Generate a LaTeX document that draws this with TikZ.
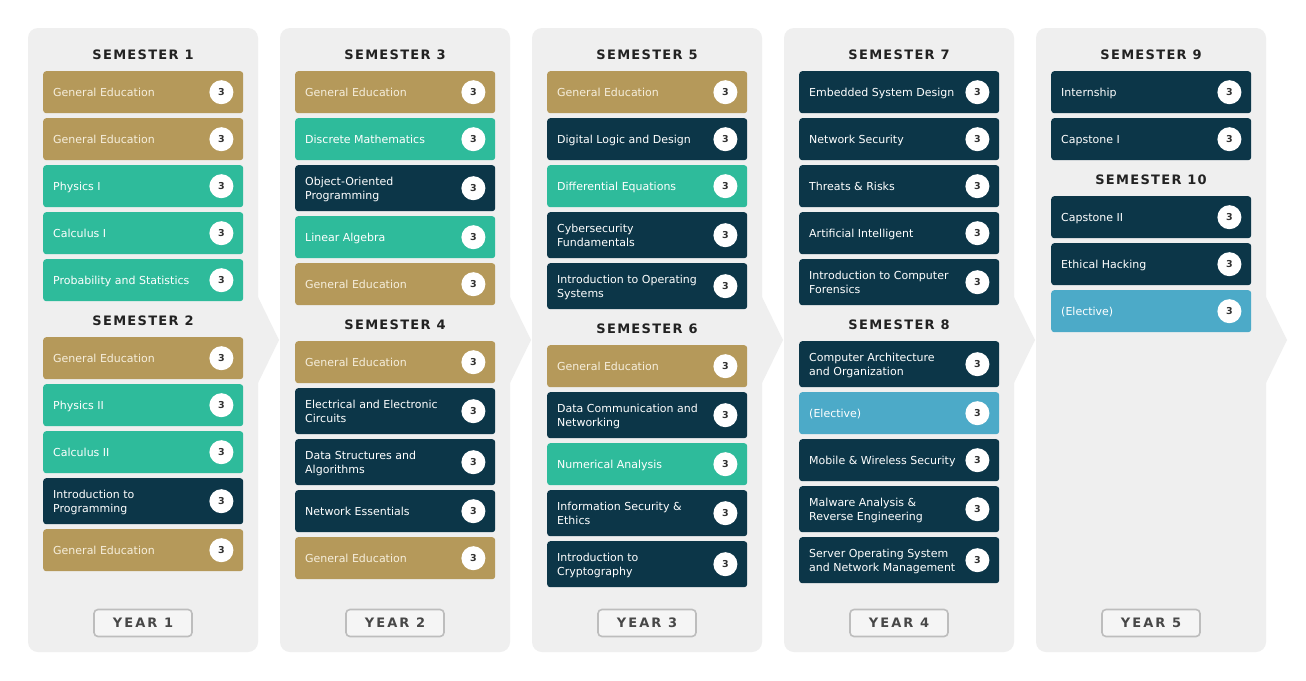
\documentclass[tikz,border=0pt]{standalone}
\usepackage{fontspec}
\setmainfont{DejaVu Sans}
\newfontfamily\headfont[LetterSpace=10]{DejaVu Sans}
\newfontfamily\yearfont[LetterSpace=16]{DejaVu Sans}
\definecolor{tan}{HTML}{B5995A}
\definecolor{teal}{HTML}{2EBB9B}
\definecolor{navy}{HTML}{0C3648}
\definecolor{elect}{HTML}{4CAAC8}
\definecolor{panel}{HTML}{EFEFEF}
\definecolor{tantext}{HTML}{F6EEDC}
\definecolor{yearborder}{HTML}{BDBDBD}
\definecolor{yeartext}{HTML}{474747}
\definecolor{headtext}{HTML}{222222}
\definecolor{badgetext}{HTML}{333333}
\tikzset{
  panelbg/.style={fill=panel},
  crsbox/.style={rectangle, rounded corners=3pt, minimum width=200pt, inner sep=0pt, draw=none},
  tanbox/.style={fill=tan}, tealbox/.style={fill=teal}, navybox/.style={fill=navy}, electbox/.style={fill=elect},
  crstext/.style={inner sep=0pt, align=left, font=\fontsize{11}{14}\selectfont,
    execute at begin node={\vphantom{lg}}, execute at end node={\vphantom{lg}}},
  tantext/.style={text=tantext}, tealtext/.style={text=white}, navytext/.style={text=white}, electtext/.style={text=white},
  badge/.style={circle, fill=white, minimum size=24pt, inner sep=0pt, text=badgetext, font=\fontsize{9.5}{10}\selectfont\bfseries},
  semhead/.style={inner sep=0pt, text=headtext, font=\fontsize{13}{14}\selectfont\headfont\bfseries},
  yearbox/.style={rectangle, rounded corners=4pt, draw=yearborder, line width=1.6pt, fill=panel!60!white, minimum width=98pt, minimum height=27pt, inner sep=0pt, text=yeartext, font=\fontsize{13}{14}\selectfont\yearfont\bfseries},
}
% #1 name, #2 x-left, #3 y-top, #4 height, #5 colour key, #6 text
\newcommand\crs[6]{%
  \node[crsbox,#5box,minimum height=#4pt,anchor=north west] (#1) at (#2,#3) {};
  \node[crstext,#5text,anchor=west] (#1t) at ([xshift=10pt,yshift=-0.8pt]#1.west) {#6};
  \node[badge] (#1b) at ([xshift=-22pt]#1.east) {3};
}
\begin{document}
\begin{tikzpicture}[x=1pt,y=-1pt]
\useasboundingbox (0,0) rectangle (1306,680);
\fill[white] (0,0) rectangle (1306,680);
% panels with chevrons
\foreach \px in {28,280,532,784,1036}{
  \fill[panelbg, rounded corners=10pt] (\px,28) rectangle ({\px+230},652);
  \fill[panelbg] ({\px+229},295) -- ({\px+251},340) -- ({\px+229},385) -- cycle;
}
% ---------------- Year 1
\node[semhead] (s1) at (143,55) {SEMESTER 1};
\crs{c1a}{43}{71}{42}{tan}{General Education}
\crs{c1b}{43}{118}{42}{tan}{General Education}
\crs{c1c}{43}{165}{42}{teal}{Physics I}
\crs{c1d}{43}{212}{42}{teal}{Calculus I}
\crs{c1e}{43}{259}{42}{teal}{Probability and Statistics}
\node[semhead] (s2) at (143,321) {SEMESTER 2};
\crs{c2a}{43}{337}{42}{tan}{General Education}
\crs{c2b}{43}{384}{42}{teal}{Physics II}
\crs{c2c}{43}{431}{42}{teal}{Calculus II}
\crs{c2d}{43}{478}{46}{navy}{Introduction to\\Programming}
\crs{c2e}{43}{529}{42}{tan}{General Education}
\node[yearbox] (y1) at (143,623) {YEAR 1};
% ---------------- Year 2
\node[semhead] (s3) at (395,55) {SEMESTER 3};
\crs{c3a}{295}{71}{42}{tan}{General Education}
\crs{c3b}{295}{118}{42}{teal}{Discrete Mathematics}
\crs{c3c}{295}{165}{46}{navy}{Object-Oriented\\Programming}
\crs{c3d}{295}{216}{42}{teal}{Linear Algebra}
\crs{c3e}{295}{263}{42}{tan}{General Education}
\node[semhead] (s4) at (395,325) {SEMESTER 4};
\crs{c4a}{295}{341}{42}{tan}{General Education}
\crs{c4b}{295}{388}{46}{navy}{Electrical and Electronic\\Circuits}
\crs{c4c}{295}{439}{46}{navy}{Data Structures and\\Algorithms}
\crs{c4d}{295}{490}{42}{navy}{Network Essentials}
\crs{c4e}{295}{537}{42}{tan}{General Education}
\node[yearbox] (y2) at (395,623) {YEAR 2};
% ---------------- Year 3
\node[semhead] (s5) at (647,55) {SEMESTER 5};
\crs{c5a}{547}{71}{42}{tan}{General Education}
\crs{c5b}{547}{118}{42}{navy}{Digital Logic and Design}
\crs{c5c}{547}{165}{42}{teal}{Differential Equations}
\crs{c5d}{547}{212}{46}{navy}{Cybersecurity\\Fundamentals}
\crs{c5e}{547}{263}{46}{navy}{Introduction to Operating\\Systems}
\node[semhead] (s6) at (647,329) {SEMESTER 6};
\crs{c6a}{547}{345}{42}{tan}{General Education}
\crs{c6b}{547}{392}{46}{navy}{Data Communication and\\Networking}
\crs{c6c}{547}{443}{42}{teal}{Numerical Analysis}
\crs{c6d}{547}{490}{46}{navy}{Information Security \&\\Ethics}
\crs{c6e}{547}{541}{46}{navy}{Introduction to\\Cryptography}
\node[yearbox] (y3) at (647,623) {YEAR 3};
% ---------------- Year 4
\node[semhead] (s7) at (899,55) {SEMESTER 7};
\crs{c7a}{799}{71}{42}{navy}{Embedded System Design}
\crs{c7b}{799}{118}{42}{navy}{Network Security}
\crs{c7c}{799}{165}{42}{navy}{Threats \& Risks}
\crs{c7d}{799}{212}{42}{navy}{Artificial Intelligent}
\crs{c7e}{799}{259}{46}{navy}{Introduction to Computer\\Forensics}
\node[semhead] (s8) at (899,325) {SEMESTER 8};
\crs{c8a}{799}{341}{46}{navy}{Computer Architecture\\and Organization}
\crs{c8b}{799}{392}{42}{elect}{(Elective)}
\crs{c8c}{799}{439}{42}{navy}{Mobile \& Wireless Security}
\crs{c8d}{799}{486}{46}{navy}{Malware Analysis \&\\Reverse Engineering}
\crs{c8e}{799}{537}{46}{navy}{Server Operating System\\and Network Management}
\node[yearbox] (y4) at (899,623) {YEAR 4};
% ---------------- Year 5
\node[semhead] (s9) at (1151,55) {SEMESTER 9};
\crs{c9a}{1051}{71}{42}{navy}{Internship}
\crs{c9b}{1051}{118}{42}{navy}{Capstone I}
\node[semhead] (s10) at (1151,180) {SEMESTER 10};
\crs{c10a}{1051}{196}{42}{navy}{Capstone II}
\crs{c10b}{1051}{243}{42}{navy}{Ethical Hacking}
\crs{c10c}{1051}{290}{42}{elect}{(Elective)}
\node[yearbox] (y5) at (1151,623) {YEAR 5};
\end{tikzpicture}
\end{document}
